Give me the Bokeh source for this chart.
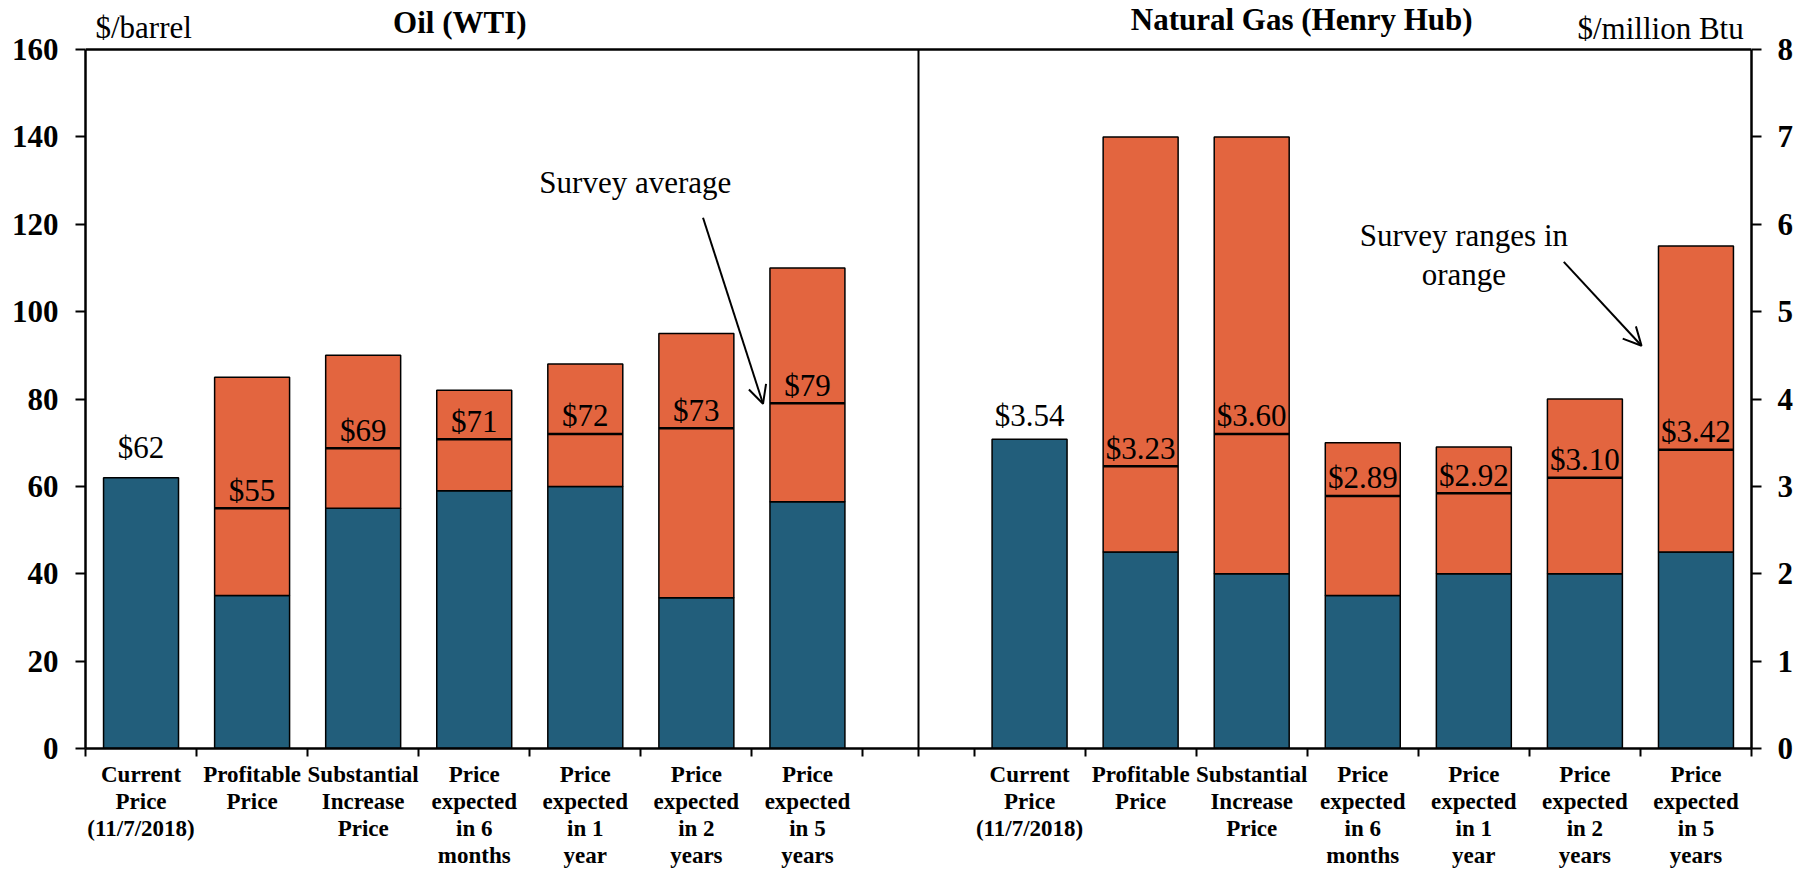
from bokeh.plotting import figure
from bokeh.models import Range1d, LinearAxis, FixedTicker, Arrow, OpenHead, Label, Span
from bokeh.core.properties import value
from bokeh.embed import file_html
from bokeh.resources import INLINE
import numpy as np

# ---- data ----
categories = [
    "Current\nPrice\n(11/7/2018)",
    "Profitable\nPrice",
    "Substantial\nIncrease\nPrice",
    "Price\nexpected\nin 6\nmonths",
    "Price\nexpected\nin 1\nyear",
    "Price\nexpected\nin 2\nyears",
    "Price\nexpected\nin 5\nyears",
]
oil_low = [62, 35, 55, 59, 60, 34.5, 56.5]
oil_high = [62, 85, 90, 82, 88, 95, 110]
oil_avg = [62, 55, 68.7, 70.8, 72, 73.3, 79]

gas_low = [3.54, 2.25, 2.0, 1.75, 2.0, 2.0, 2.25]
gas_high = [3.54, 7.0, 7.0, 3.5, 3.45, 4.0, 5.75]
gas_avg = [3.54, 3.23, 3.60, 2.89, 2.92, 3.10, 3.42]

oil_ticks = list(range(0, 161, 20))
gas_ticks = list(range(0, 9))

BLUE = "#225E7B"
ORANGE = "#E3653F"
SERIF = "Liberation Serif"
BAR_W = 0.675

W, H = 1808, 870
FRAME_TOP, FRAME_BOTTOM = 49, 748
OIL_MAX, GAS_MAX = 160, 8
y_end = OIL_MAX * FRAME_BOTTOM / (FRAME_BOTTOM - FRAME_TOP)   # room above the top line for titles

oil_x = np.arange(1, 8)
gas_x = np.arange(9, 16)

p = figure(width=W, height=H, x_range=Range1d(0.5, 15.5), y_range=Range1d(0, y_end),
           output_backend="svg", toolbar_location=None,
           min_border_left=85, min_border_right=W - 1751, min_border_top=0,
           min_border_bottom=H - FRAME_BOTTOM)
p.extra_y_ranges = {"gas": Range1d(0, y_end * GAS_MAX / OIL_MAX)}
p.xgrid.visible = False
p.ygrid.visible = False
p.outline_line_color = None
p.background_fill_color = "white"
p.border_fill_color = "white"

def draw(xs, low, high, avg, rng, labels, cur_label, cur_off):
    low = np.array(low, dtype=float)
    high = np.array(high, dtype=float)
    avg = np.array(avg, dtype=float)
    kw = {} if rng is None else {"y_range_name": rng}
    p.vbar(x=xs, width=BAR_W, bottom=0, top=low, fill_color=BLUE, line_color="black", line_width=1.5, **kw)
    p.vbar(x=xs[1:], width=BAR_W, bottom=low[1:], top=high[1:], fill_color=ORANGE,
           line_color="black", line_width=1.5, **kw)
    p.segment(x0=xs[1:] - BAR_W / 2, x1=xs[1:] + BAR_W / 2, y0=avg[1:], y1=avg[1:],
              line_color="black", line_width=2.5, **kw)
    p.text(x=xs[1:], y=avg[1:], text=labels[1:], text_align="center", text_baseline="alphabetic",
           y_offset=-18, text_font=value(SERIF), text_font_size="31px", text_color="black", **kw)
    p.text(x=xs[:1], y=low[:1], text=[cur_label], text_align="center", text_baseline="alphabetic",
           y_offset=cur_off, text_font=value(SERIF), text_font_size="31px", text_color="black", **kw)

oil_labels = ["$%d" % round(v) for v in oil_avg]
gas_labels = ["$%.2f" % v for v in gas_avg]
draw(oil_x, oil_low, oil_high, oil_avg, None, oil_labels, "$%d" % round(oil_avg[0]), -30)
draw(gas_x, gas_low, gas_high, gas_avg, "gas", gas_labels, "$%.2f" % gas_avg[0], -24)

# top border line and divider
p.add_layout(Span(location=OIL_MAX, dimension="width", line_color="black", line_width=2.5))
p.segment(x0=[8], x1=[8], y0=[0], y1=[OIL_MAX], line_color="black", line_width=2)

# x axis
xa = p.xaxis[0]
boundaries = [b + 0.5 for b in range(0, 16)] + [8.0]
xa.ticker = FixedTicker(ticks=list(oil_x) + list(gas_x), minor_ticks=boundaries)
overrides = {}
for i, c in enumerate(categories):
    overrides[int(oil_x[i])] = c
    overrides[int(gas_x[i])] = c
xa.major_label_overrides = overrides
xa.major_tick_out = 0
xa.major_tick_in = 0
xa.major_tick_line_color = None
xa.minor_tick_out = 8
xa.minor_tick_in = 0
xa.minor_tick_line_color = "black"
xa.minor_tick_line_width = 2
xa.axis_line_width = 2.5
xa.axis_line_color = "black"
xa.major_label_standoff = 5
xa.major_label_text_font = SERIF
xa.major_label_text_font_style = "bold"
xa.major_label_text_font_size = "23px"
xa.major_label_text_line_height = 1.08
xa.major_label_text_color = "black"

def style_y(ax, standoff):
    ax.minor_tick_line_color = None
    ax.major_tick_out = 10
    ax.major_tick_in = 0
    ax.major_tick_line_width = 2
    ax.axis_line_width = 2.5
    ax.major_label_standoff = standoff
    ax.major_label_text_font = SERIF
    ax.major_label_text_font_style = "bold"
    ax.major_label_text_font_size = "31px"
    ax.major_label_text_color = "black"

ya = p.yaxis[0]
ya.ticker = FixedTicker(ticks=oil_ticks)
ya.bounds = (0, OIL_MAX)
style_y(ya, 17)

ra = LinearAxis(y_range_name="gas", ticker=FixedTicker(ticks=gas_ticks), bounds=(0, GAS_MAX))
style_y(ra, 16)
p.add_layout(ra, "right")

# titles / units
def lab(text, x, y, yoff, align, bold=False, rng="default"):
    p.add_layout(Label(x=x, y=y, y_offset=yoff, text=text, text_align=align, text_baseline="middle",
                       text_font=SERIF, text_font_size="31px",
                       text_font_style="bold" if bold else "normal", text_color="black",
                       y_range_name=rng))

lab("$/barrel", 0.59, OIL_MAX, 22, "left")
lab("Oil (WTI)", 3.87, OIL_MAX, 27, "center", bold=True)
lab("Natural Gas (Henry Hub)", 11.45, OIL_MAX, 30, "center", bold=True)
lab("$/million Btu", 15.43, OIL_MAX, 21, "right")

# annotations
lab("Survey average", 5.45, 129.5, 0, "center")
lab("Survey ranges in", 12.91, 5.87, 0, "center", rng="gas")
lab("orange", 12.91, 5.42, 0, "center", rng="gas")

p.add_layout(Arrow(end=OpenHead(size=18, line_width=2, line_color="black"),
                   x_start=6.06, y_start=121.5, x_end=6.60, y_end=78.9,
                   line_width=2, line_color="black"))
p.add_layout(Arrow(end=OpenHead(size=18, line_width=2, line_color="black"),
                   x_start=13.81, y_start=5.57, x_end=14.51, y_end=4.61,
                   line_width=2, line_color="black", y_range_name="gas"))

open("out.html", "w").write(file_html(p, INLINE))
